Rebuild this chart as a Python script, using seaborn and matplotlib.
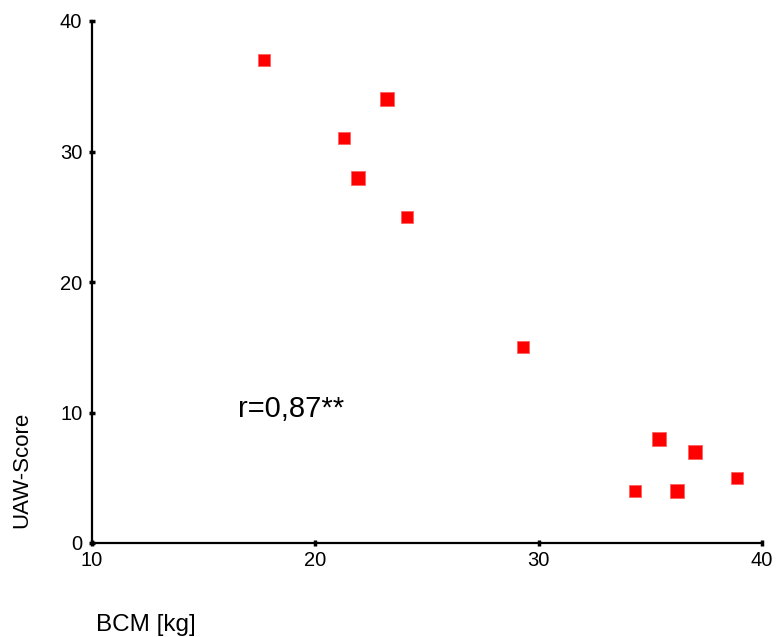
import matplotlib
matplotlib.use("Agg")
import matplotlib.pyplot as plt
import seaborn as sns
import pandas as pd

sns.set_theme(style="white")
plt.rcParams['font.family'] = ['Liberation Sans', 'DejaVu Sans']
plt.rcParams['text.color'] = 'black'

bcm_small = [17.7, 21.3, 24.1, 29.3, 34.3, 38.9]
uaw_small = [37, 31, 25, 15, 4, 5]
bcm_big = [23.2, 21.9, 35.4, 37.0, 36.2]
uaw_big = [34, 28, 8, 7, 4]
x_ticks = [10, 20, 30, 40]
y_ticks = [0, 10, 20, 30, 40]

df_s = pd.DataFrame({"BCM": bcm_small, "UAW": uaw_small})
df_b = pd.DataFrame({"BCM": bcm_big, "UAW": uaw_big})

fig = plt.figure(figsize=(7.76, 6.37), dpi=100)
ax = fig.add_axes([92/776, 1-543/637, (762-92)/776, (543-21)/637])
sns.scatterplot(data=df_s, x="BCM", y="UAW", marker="s", s=78, color="#ff0000",
                edgecolor="#ff6060", linewidth=0.6, ax=ax, clip_on=False)
sns.scatterplot(data=df_b, x="BCM", y="UAW", marker="s", s=100, color="#ff0000",
                edgecolor="#ff6060", linewidth=0.6, ax=ax, clip_on=False)
ax.set_xlim(10, 40)
ax.set_ylim(0, 40)
ax.set_xticks(x_ticks)
ax.set_yticks(y_ticks)
ax.tick_params(axis='both', direction='inout', length=4, width=2.5, color='black',
               labelsize=14.5, labelcolor='black', bottom=True, left=True)
ax.tick_params(axis='y', pad=5)
ax.tick_params(axis='x', pad=4)
for s in ['top', 'right']:
    ax.spines[s].set_visible(False)
for s in ['left', 'bottom']:
    ax.spines[s].set_color('black')
    ax.spines[s].set_linewidth(1.6)
ax.set_xlabel("")
ax.set_ylabel("")
fig.text(96/776, 1-625/637, "BCM [kg]", fontsize=17.5, ha='left', va='center', color='black')
fig.text(22/776, 1-470/637, "UAW-Score", fontsize=16, rotation=90, ha='center', va='center', color='black')
ax.text(16.55, 10.3, "r=0,87**", fontsize=21, ha='left', va='center', color='black')
fig.savefig("out.png", dpi=100, facecolor='white')
